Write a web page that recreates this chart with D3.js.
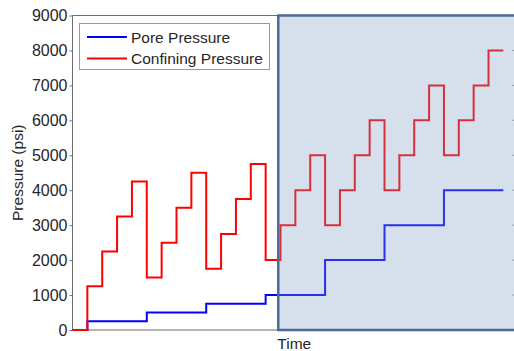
<!DOCTYPE html>
<html>
<head>
<meta charset="utf-8">
<script src="https://cdn.jsdelivr.net/npm/d3@7/dist/d3.min.js"></script>
<style>
  html, body { margin: 0; padding: 0; background: #fff; }
  svg { display: block; font-family: "Liberation Sans", Arial, sans-serif; }
</style>
</head>
<body>
<svg id="chart" width="514" height="351"></svg>
<script>
// Pressure schedule: one value per equal time step
const confining = [0, 1250, 2250, 3250, 4250, 1500, 2500, 3500, 4500,
                   1750, 2750, 3750, 4750, 2000, 3000, 4000, 5000,
                   3000, 4000, 5000, 6000, 4000, 5000, 6000, 7000,
                   5000, 6000, 7000, 8000];
const pore = [0, 250, 250, 250, 250, 500, 500, 500, 500,
              750, 750, 750, 750, 1000, 1000, 1000, 1000,
              2000, 2000, 2000, 2000, 3000, 3000, 3000, 3000,
              4000, 4000, 4000, 4000];
const yTicks = [0, 1000, 2000, 3000, 4000, 5000, 6000, 7000, 8000, 9000];
const seriesNames = ["Pore Pressure", "Confining Pressure"];
const seriesColors = ["#0000ff", "#ff0000"];
const highlightStart = 13.85;   // start of the highlighted stage (time steps)
const timeMax = 29.85;

const svg = d3.select("#chart");
const plotL = 72.5, plotR = 516, plotT = 15.5, plotB = 330;

const x = d3.scaleLinear().domain([0, timeMax]).range([plotL, plotR]);
const y = d3.scaleLinear().domain([0, 9000]).range([plotB, plotT]);

// step series: value holds from step i to step i+1
const toPoints = vals => vals.map((v, i) => [i, v]).concat([[vals.length, vals[vals.length - 1]]]);
const line = d3.line().x(d => x(d[0])).y(d => y(d[1])).curve(d3.curveStepAfter);

// axes frame
svg.append("line").attr("x1", plotL).attr("x2", x(highlightStart)).attr("y1", plotT).attr("y2", plotT)
  .attr("stroke", "#6e6e6e").attr("stroke-width", 1);
svg.append("line").attr("x1", plotL).attr("x2", plotL).attr("y1", plotT).attr("y2", plotB)
  .attr("stroke", "#6e6e6e").attr("stroke-width", 1);
svg.append("line").attr("x1", plotL).attr("x2", plotR).attr("y1", plotB).attr("y2", plotB)
  .attr("stroke", "#b4b4b4").attr("stroke-width", 2);

// y axis ticks and labels
const yAxis = d3.axisLeft(y).tickValues(yTicks).tickSize(3).tickPadding(2).tickFormat(d3.format("d"));
const gY = svg.append("g").attr("transform", `translate(${plotL},0)`).call(yAxis);
gY.select(".domain").remove();
gY.selectAll(".tick line").attr("stroke", "#6e6e6e");
gY.selectAll(".tick text").attr("fill", "#262626").style("font-size", "16px")
  .style("font-family", "'Liberation Sans', Arial, sans-serif");

// right-side ticks
svg.append("g").selectAll("line").data(yTicks.slice(1, -1)).join("line")
  .attr("x1", 512.5).attr("x2", 515).attr("y1", d => y(d)).attr("y2", d => y(d))
  .attr("stroke", "#8a8a8a").attr("stroke-width", 1);

// series
svg.append("path").attr("d", line(toPoints(pore)))
  .attr("fill", "none").attr("stroke", seriesColors[0]).attr("stroke-width", 2);
svg.append("path").attr("d", line(toPoints(confining)))
  .attr("fill", "none").attr("stroke", seriesColors[1]).attr("stroke-width", 2);

// highlighted stage overlay
svg.append("rect")
  .attr("x", x(highlightStart)).attr("y", plotT)
  .attr("width", plotR + 6 - x(highlightStart)).attr("height", plotB - plotT)
  .attr("fill", "rgb(122,155,197)").attr("fill-opacity", 0.31)
  .attr("stroke", "#4b6a94").attr("stroke-width", 2.5);

// axis titles
svg.append("text").attr("x", (plotL + plotR) / 2).attr("y", 348.5)
  .attr("text-anchor", "middle").attr("fill", "#262626").style("font-size", "15.5px")
  .text("Time");
svg.append("text").attr("transform", `translate(23,${(plotT + plotB) / 2}) rotate(-90)`)
  .attr("text-anchor", "middle").attr("fill", "#262626").style("font-size", "15.5px")
  .text("Pressure (psi)");

// legend
const lg = svg.append("g");
lg.append("rect").attr("x", 79.5).attr("y", 23.5).attr("width", 190).attr("height", 46)
  .attr("fill", "#fff").attr("stroke", "#9a9a9a").attr("stroke-width", 1);
seriesNames.forEach((name, i) => {
  const ly = 37 + i * 21.5;
  lg.append("line").attr("x1", 87).attr("x2", 127).attr("y1", ly).attr("y2", ly)
    .attr("stroke", seriesColors[i]).attr("stroke-width", 2);
  lg.append("text").attr("x", 131).attr("y", ly + 5.5).attr("fill", "#262626")
    .style("font-size", "15.5px").text(name);
});
</script>
</body>
</html>
